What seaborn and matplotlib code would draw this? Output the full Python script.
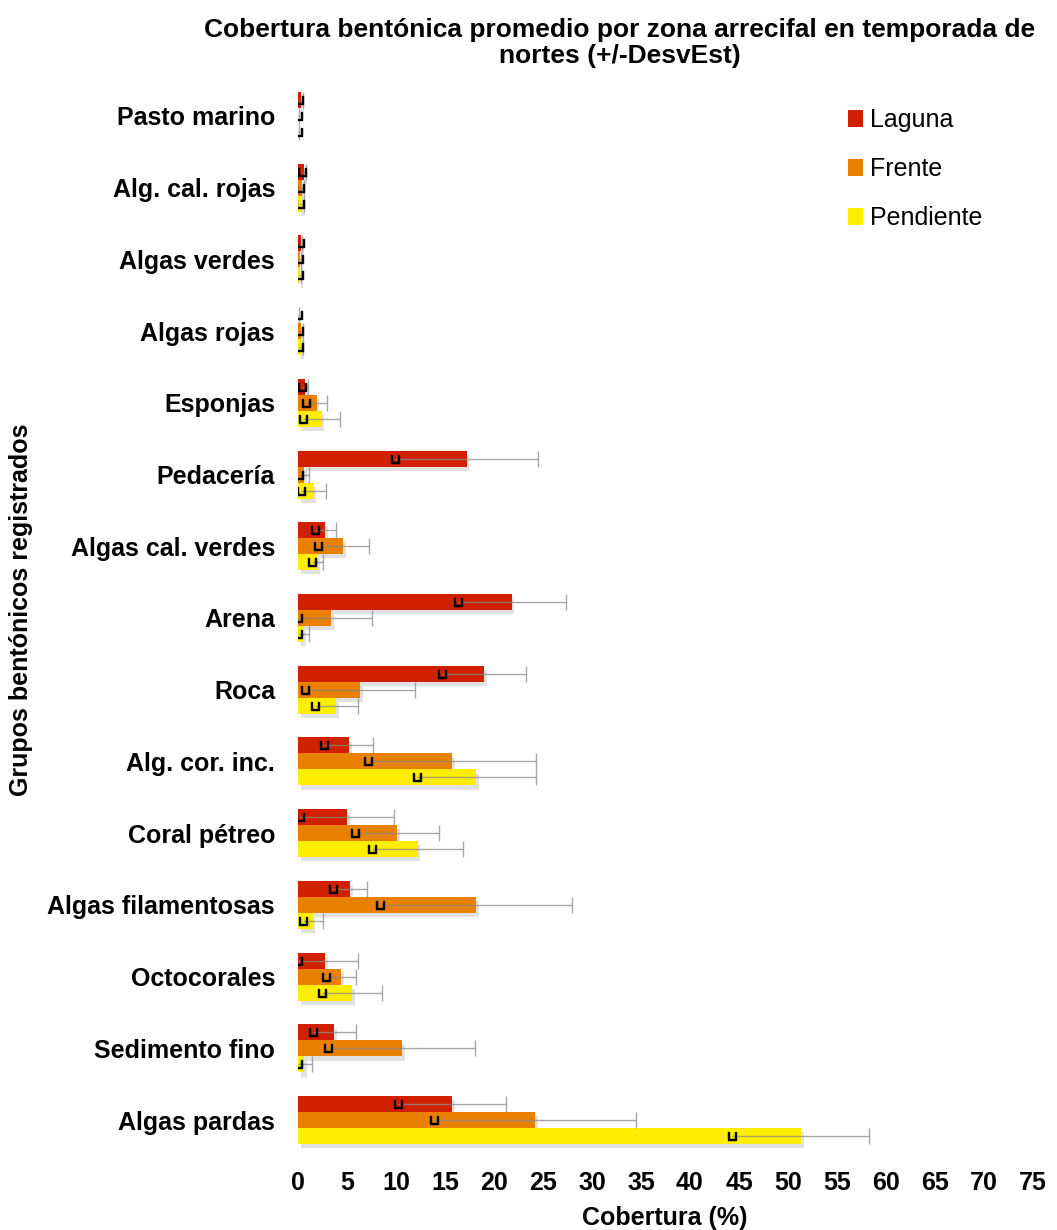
import numpy as np
import pandas as pd
import matplotlib
matplotlib.use("Agg")
import matplotlib.pyplot as plt
import matplotlib.patheffects as pe
from matplotlib.patches import Patch
import seaborn as sns

categories = ["Pasto marino", "Alg. cal. rojas", "Algas verdes", "Algas rojas",
              "Esponjas", "Pedacería", "Algas cal. verdes", "Arena", "Roca",
              "Alg. cor. inc.", "Coral pétreo", "Algas filamentosas",
              "Octocorales", "Sedimento fino", "Algas pardas"]
zones = ["Laguna", "Frente", "Pendiente"]

laguna = [0.3, 0.6, 0.3, 0.05, 0.7, 17.2, 2.8, 21.8, 19.0, 5.2, 5.0, 5.3, 2.8, 3.7, 15.7]
laguna_sd = [0.2, 0.2, 0.1, 0.05, 0.3, 7.3, 1.1, 5.5, 4.3, 2.5, 4.8, 1.7, 3.3, 2.2, 5.5]
frente = [0.05, 0.4, 0.2, 0.3, 1.9, 0.6, 4.6, 3.4, 6.3, 15.7, 10.1, 18.2, 4.4, 10.6, 24.2]
frente_sd = [0.05, 0.2, 0.1, 0.2, 1.1, 0.5, 2.6, 4.1, 5.6, 8.6, 4.3, 9.8, 1.5, 7.5, 10.3]
pendiente = [0.05, 0.4, 0.2, 0.3, 2.4, 1.6, 2.0, 0.55, 3.9, 18.2, 12.2, 1.5, 5.5, 0.6, 51.3]
pendiente_sd = [0.05, 0.2, 0.1, 0.2, 1.9, 1.3, 0.6, 0.55, 2.2, 6.1, 4.6, 1.0, 3.1, 0.8, 7.0]

colors = ["#D02000", "#E98000", "#FFEE00"]

sns.set_style("white")
plt.rcParams['font.family'] = ['Liberation Sans', 'DejaVu Sans']
plt.rcParams['text.color'] = 'black'
plt.rcParams['xtick.color'] = 'black'
plt.rcParams['ytick.color'] = 'black'

means = {"Laguna": laguna, "Frente": frente, "Pendiente": pendiente}
sds = {"Laguna": laguna_sd, "Frente": frente_sd, "Pendiente": pendiente_sd}

rows = []
for z in zones:
    for c, m, s in zip(categories, means[z], sds[z]):
        rows.append({"grupo": c, "zona": z, "media": m, "sd": s})
df = pd.DataFrame(rows)

fig = plt.figure(figsize=(10.57, 12.3), dpi=100)
W, H = 1057, 1230
ax = fig.add_axes([298 / W, 1 - 1156 / H, (1033 - 298) / W, (1156 - 80) / H])

sns.barplot(data=df, y="grupo", x="media", hue="zona", order=categories,
            hue_order=zones, palette=colors, width=0.67, orient="h",
            errorbar=None, saturation=1, ax=ax, legend=False)

shadow = [pe.SimplePatchShadow(offset=(2, -3), shadow_rgbFace="#888888", alpha=0.25), pe.Normal()]
for z, cont in zip(zones, ax.containers):
    ys, xs = [], []
    for p in cont.patches:
        p.set_edgecolor("none")
        p.set_path_effects(shadow)
        ys.append(p.get_y() + p.get_height() / 2)
        xs.append(p.get_width())
    xs = np.array(xs)
    ys = np.array(ys)
    sd = np.array(sds[z])
    low = np.clip(xs - sd, 0, None)
    high = xs + sd
    # error line from lower end to upper end, cap only on the right
    ax.hlines(ys, low, high, color="#8a8a8a", linewidth=1, alpha=0.75, zorder=3)
    ax.plot(high, ys, linestyle="none", marker="|", markersize=11,
            markeredgewidth=1, color="#8a8a8a", alpha=0.75, zorder=3)
    ax.plot(low, ys, linestyle="none", marker=r"$\sqcup$", markersize=6,
            color="black", zorder=4)

ax.set_xlim(0, 75)
ax.set_ylim(len(categories) - 0.5, -0.5)
ax.set_xticks(np.arange(0, 76, 5))
for s in ax.spines.values():
    s.set_visible(False)
ax.tick_params(axis="both", length=0, labelsize=18)
ax.tick_params(axis="x", pad=11)
ax.tick_params(axis="y", pad=16.5)
for lab in ax.get_xticklabels() + ax.get_yticklabels():
    lab.set_fontweight("bold")
ax.set_xlabel("")
ax.set_ylabel("")

fig.text(665 / W, 1 - 1218 / H, "Cobertura (%)", ha="center", va="center",
         fontsize=18, fontweight="bold")
fig.text(21 / W, 1 - 610 / H, "Grupos bentónicos registrados", ha="center",
         va="center", rotation=90, fontsize=18, fontweight="bold")
fig.text(620 / W, 1 - 43 / H,
         "Cobertura bentónica promedio por zona arrecifal en temporada de\nnortes (+/-DesvEst)",
         ha="center", va="center", fontsize=19, fontweight="bold", linespacing=1.15)

handles = [Patch(facecolor=c, edgecolor="none") for c in colors]
fig.legend(handles, zones, loc="upper left", bbox_to_anchor=(838 / W, 1 - 98 / H),
           frameon=False, fontsize=18, handlelength=0.6, handleheight=0.7,
           handletextpad=0.3, labelspacing=1.0, borderaxespad=0)

fig.savefig("out.png", dpi=100)
